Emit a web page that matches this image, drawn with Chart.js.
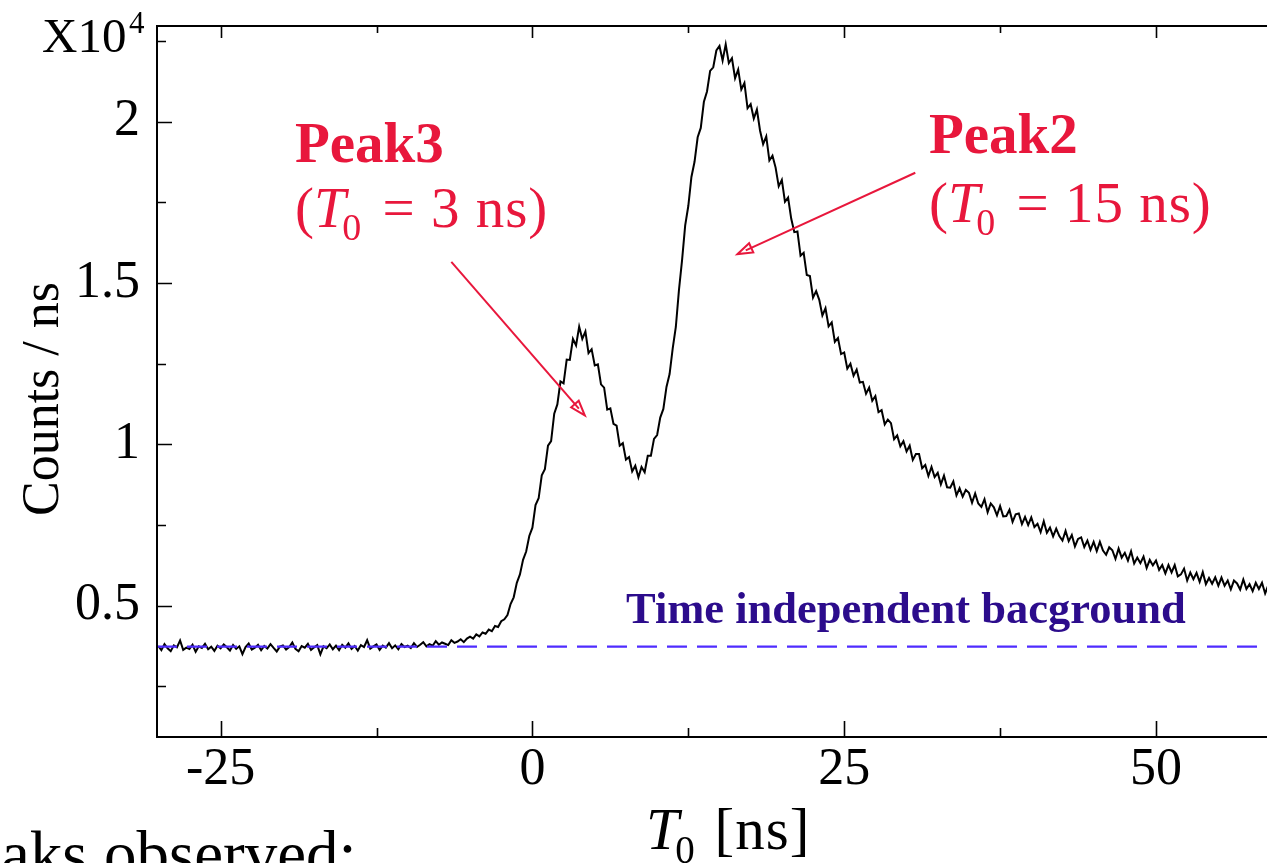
<!DOCTYPE html>
<html>
<head>
<meta charset="utf-8">
<script src="https://cdn.jsdelivr.net/npm/chart.js@4.4.1/dist/chart.umd.min.js"></script>
<style>
  html, body { margin: 0; padding: 0; background: #fff; overflow: hidden; }
  #wrap { width: 1267px; height: 863px; position: relative; }
</style>
</head>
<body>
<div id="wrap"><canvas id="chart" width="1267" height="863"></canvas></div>
<script>
// T0 spectrum, counts per ns in units of 10^4, 0.25 ns bins
const binStart = -30;   // ns, first bin
const binWidth = 0.25;  // ns

const counts = [
  0.375, 0.362, 0.381, 0.368, 0.359, 0.377, 0.371, 0.392, 0.363, 0.370, 0.366, 0.379, 0.357, 0.374, 0.369, 0.382, 0.365, 0.373, 0.360, 0.376, // -30
  0.368, 0.380, 0.371, 0.361, 0.378, 0.366, 0.374, 0.350, 0.372, 0.383, 0.364, 0.370, 0.379, 0.362, 0.375, 0.367, 0.381, 0.369, 0.358, 0.373, // -25
  0.377, 0.364, 0.372, 0.386, 0.366, 0.359, 0.375, 0.370, 0.382, 0.363, 0.371, 0.378, 0.349, 0.374, 0.368, 0.380, 0.365, 0.376, 0.362, 0.379, // -20
  0.370, 0.383, 0.366, 0.375, 0.361, 0.378, 0.372, 0.393, 0.367, 0.374, 0.380, 0.363, 0.376, 0.370, 0.384, 0.368, 0.377, 0.365, 0.381, 0.372, // -15
  0.376, 0.369, 0.384, 0.372, 0.379, 0.387, 0.374, 0.381, 0.376, 0.390, 0.379, 0.386, 0.382, 0.378, 0.393, 0.385, 0.389, 0.396, 0.387, 0.398, // -10
  0.404, 0.398, 0.411, 0.405, 0.417, 0.413, 0.426, 0.421, 0.437, 0.434, 0.452, 0.458, 0.471, 0.505, 0.526, 0.571, 0.597, 0.642, 0.668, 0.716, // -5
  0.742, 0.812, 0.833, 0.904, 0.923, 0.996, 1.010, 1.095, 1.124, 1.195, 1.189, 1.263, 1.262, 1.327, 1.307, 1.365, 1.327, 1.350, 1.283, 1.295, // 0
  1.245, 1.248, 1.186, 1.176, 1.108, 1.112, 1.064, 1.058, 0.996, 1.004, 0.953, 0.961, 0.916, 0.934, 0.898, 0.930, 0.914, 0.965, 0.965, 1.017, // 5
  1.029, 1.083, 1.110, 1.178, 1.218, 1.298, 1.364, 1.478, 1.571, 1.679, 1.739, 1.829, 1.876, 1.952, 1.981, 2.062, 2.094, 2.158, 2.169, 2.221, // 10
  2.235, 2.190, 2.240, 2.182, 2.197, 2.135, 2.162, 2.100, 2.120, 2.042, 2.055, 2.010, 2.038, 1.973, 1.931, 1.955, 1.880, 1.895, 1.858, 1.800, // 15
  1.820, 1.752, 1.765, 1.700, 1.658, 1.660, 1.585, 1.594, 1.525, 1.522, 1.455, 1.475, 1.448, 1.400, 1.422, 1.366, 1.378, 1.318, 1.330, 1.280, // 20
  1.285, 1.235, 1.250, 1.213, 1.232, 1.192, 1.194, 1.157, 1.176, 1.135, 1.150, 1.100, 1.106, 1.062, 1.077, 1.066, 1.016, 1.028, 0.994, 1.010, // 25
  0.978, 0.996, 0.952, 0.970, 0.970, 0.926, 0.936, 0.902, 0.930, 0.899, 0.912, 0.876, 0.903, 0.867, 0.866, 0.885, 0.842, 0.864, 0.838, 0.859, // 30
  0.850, 0.819, 0.848, 0.817, 0.806, 0.830, 0.790, 0.817, 0.805, 0.780, 0.809, 0.777, 0.778, 0.797, 0.760, 0.783, 0.786, 0.753, 0.775, 0.750, // 35
  0.774, 0.744, 0.754, 0.728, 0.762, 0.726, 0.742, 0.715, 0.739, 0.716, 0.702, 0.732, 0.700, 0.719, 0.684, 0.707, 0.712, 0.682, 0.702, 0.673, // 40
  0.698, 0.669, 0.698, 0.671, 0.658, 0.681, 0.672, 0.645, 0.677, 0.649, 0.664, 0.640, 0.669, 0.631, 0.649, 0.632, 0.652, 0.617, 0.642, 0.625, // 45
  0.640, 0.611, 0.626, 0.600, 0.626, 0.603, 0.626, 0.591, 0.597, 0.615, 0.578, 0.603, 0.582, 0.602, 0.574, 0.604, 0.567, 0.586, 0.568, 0.588, // 50
  0.562, 0.587, 0.562, 0.578, 0.551, 0.578, 0.569, 0.550, 0.581, 0.552, 0.567, 0.545, 0.571, 0.552, 0.571, 0.538, 0.563                       // 55 .. 59
];

const backgroundLevel = 0.373;

const xRange = [-30.1, 58.9];
const yRange = [0.093, 2.297];
const xTicks = [-25, -12.5, 0, 12.5, 25, 37.5, 50];
const xTickLabels = ['-25', '', '0', '', '25', '', '50'];
const yTicks = [0.25, 0.5, 0.75, 1, 1.25, 1.5, 1.75, 2, 2.25];
const yTickLabels = ['', '0.5', '', '1', '', '1.5', '', '2', ''];

const serif = '"Liberation Serif", "Times New Roman", serif';
const red = '#e8173c';

const spectrum = counts.map((c, i) => ({ x: binStart + i * binWidth, y: c }));
const bgLine = [{ x: xRange[0], y: backgroundLevel }, { x: xRange[1], y: backgroundLevel }];

// "(T0 = ...)" with italic T and subscript 0
function drawT0(ctx, x, y, size, before, after, extra) {
  const gap = extra || 0;
  ctx.textAlign = 'left';
  ctx.textBaseline = 'alphabetic';
  ctx.font = `${size}px ${serif}`;
  ctx.fillText(before, x, y);
  x += ctx.measureText(before).width;
  ctx.font = `italic ${size}px ${serif}`;
  ctx.fillText('T', x, y);
  x += ctx.measureText('T').width - size * 0.06;
  const sub = Math.round(size * 0.66);
  ctx.font = `${sub}px ${serif}`;
  ctx.fillText('0', x, y + size * 0.23);
  x += ctx.measureText('0').width + gap;
  ctx.font = `${size}px ${serif}`;
  ctx.letterSpacing = gap ? '1px' : '0px';
  ctx.fillText(after, x, y);
  ctx.letterSpacing = '0px';
}

function arrow(ctx, x1, y1, x2, y2) {
  const ang = Math.atan2(y2 - y1, x2 - x1);
  const len = 15, half = 5;
  const c = Math.cos(ang), s = Math.sin(ang);
  ctx.beginPath();
  ctx.moveTo(x1, y1);
  ctx.lineTo(x2 - c * len * 0.6, y2 - s * len * 0.6);
  ctx.stroke();
  ctx.beginPath();
  ctx.moveTo(x2, y2);
  ctx.lineTo(x2 - c * len - s * half, y2 - s * len + c * half);
  ctx.lineTo(x2 - c * len + s * half, y2 - s * len - c * half);
  ctx.closePath();
  ctx.stroke();
}

const framePlugin = {
  id: 'frame',
  afterDraw(chart) {
    const { ctx, chartArea: a, scales: { x, y } } = chart;
    ctx.save();

    // frame (right side is cut off in the original)
    ctx.strokeStyle = '#000';
    ctx.lineWidth = 2;
    ctx.beginPath();
    ctx.moveTo(a.right + 5, a.top);
    ctx.lineTo(a.left, a.top);
    ctx.lineTo(a.left, a.bottom);
    ctx.lineTo(a.right + 5, a.bottom);
    ctx.stroke();

    // inward ticks
    ctx.lineWidth = 1.6;
    ctx.beginPath();
    xTicks.forEach((v, i) => {
      const px = Math.round(x.getPixelForValue(v)) + 0.5;
      const major = xTickLabels[i] !== '';
      ctx.moveTo(px, a.bottom);
      ctx.lineTo(px, a.bottom - (major ? 16 : 9));
      ctx.moveTo(px, a.top);
      ctx.lineTo(px, a.top + (major ? 12 : 7));
    });
    yTicks.forEach((v, i) => {
      const py = Math.round(y.getPixelForValue(v)) + 0.5;
      const major = yTickLabels[i] !== '';
      ctx.moveTo(a.left, py);
      ctx.lineTo(a.left + (major ? 15 : 9), py);
    });
    ctx.stroke();

    ctx.fillStyle = '#000';
    // X10^4
    ctx.textAlign = 'left';
    ctx.textBaseline = 'alphabetic';
    ctx.font = `49px ${serif}`;
    ctx.fillText('X10', 42, 52);
    ctx.font = `31px ${serif}`;
    ctx.fillText('4', 129, 33);

    // y title
    ctx.save();
    ctx.translate(58, 399);
    ctx.rotate(-Math.PI / 2);
    ctx.textAlign = 'center';
    ctx.font = `52px ${serif}`;
    ctx.fillText('Counts / ns', 0, 0);
    ctx.restore();

    // x title
    drawT0(ctx, 646, 849, 59, '', ' [ns]', 4);

    // slide text under the plot
    ctx.font = `65px ${serif}`;
    ctx.textAlign = 'left';
    const cut = ctx.measureText('Pe').width;
    ctx.fillText('Peaks observed:', 1 - cut, 876);

    // annotations
    ctx.fillStyle = red;
    ctx.font = `bold 57px ${serif}`;
    ctx.fillText('Peak3', 295, 162);
    drawT0(ctx, 295, 227, 57, '(', ' = 3 ns)', 6);
    ctx.font = `bold 57px ${serif}`;
    ctx.fillText('Peak2', 929, 153);
    drawT0(ctx, 929, 222, 57, '(', ' = 15 ns)', 6);

    ctx.strokeStyle = red;
    ctx.lineWidth = 2;
    arrow(ctx, x.getPixelForValue(-6.5), y.getPixelForValue(1.566), x.getPixelForValue(4.2), y.getPixelForValue(1.09));
    arrow(ctx, x.getPixelForValue(30.7), y.getPixelForValue(1.842), x.getPixelForValue(16.45), y.getPixelForValue(1.59));

    // background label
    ctx.fillStyle = '#2c0c8c';
    ctx.font = `bold 44.5px ${serif}`;
    ctx.fillText('Time independent bacground', 626, 623);

    ctx.restore();
  }
};

new Chart(document.getElementById('chart'), {
  type: 'line',
  data: {
    datasets: [
      {
        label: 'Time independent bacground',
        data: bgLine,
        borderColor: '#4f2cff',
        borderWidth: 2.2,
        borderDash: [20, 10],
        pointRadius: 0
      },
      {
        label: 'T0 spectrum',
        data: spectrum,
        borderColor: '#000',
        borderWidth: 2,
        pointRadius: 0,
        tension: 0
      }
    ]
  },
  options: {
    responsive: false,
    animation: false,
    devicePixelRatio: 1,
    layout: { padding: { left: 0, top: 26, right: 0, bottom: 0 } },
    plugins: { legend: { display: false }, tooltip: { enabled: false } },
    scales: {
      x: {
        type: 'linear',
        min: xRange[0],
        max: xRange[1],
        grid: { display: false, drawTicks: false },
        border: { display: false },
        afterBuildTicks: s => { s.ticks = xTicks.map(v => ({ value: v })); },
        afterFit: s => { s.height = 126; s.paddingLeft = 0; s.paddingRight = 0; },
        ticks: {
          autoSkip: false,
          maxRotation: 0,
          padding: 2,
          color: '#000',
          font: { family: serif, size: 52 },
          callback: (v, i) => xTickLabels[i]
        }
      },
      y: {
        type: 'linear',
        min: yRange[0],
        max: yRange[1],
        grid: { display: false, drawTicks: false },
        border: { display: false },
        afterBuildTicks: s => { s.ticks = yTicks.map(v => ({ value: v })); },
        afterFit: s => { s.width = 157; s.paddingTop = 0; s.paddingBottom = 0; },
        ticks: {
          autoSkip: false,
          padding: 17,
          color: '#000',
          font: { family: serif, size: 52 },
          callback: (v, i) => yTickLabels[i]
        }
      }
    }
  },
  plugins: [framePlugin]
});
</script>
</body>
</html>
